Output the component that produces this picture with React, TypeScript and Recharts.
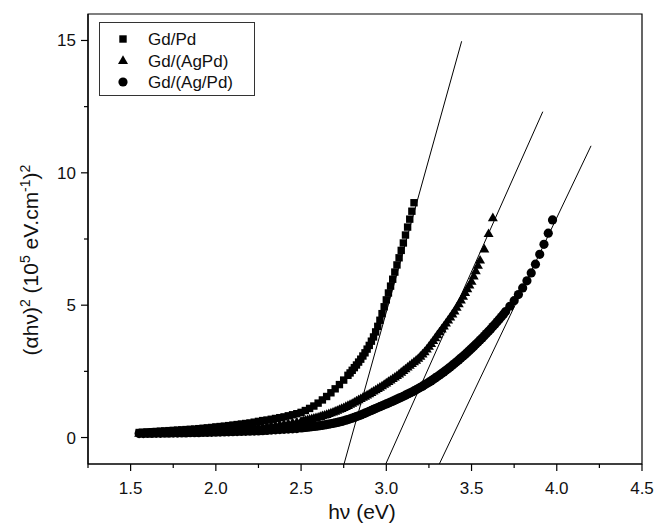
import React from 'react';
import { ScatterChart, Scatter, XAxis, YAxis, ReferenceLine, ReferenceArea, Legend } from 'recharts';

const FONT = '"Liberation Sans", Arial, sans-serif';

// photon energy (eV), flat part shared by all samples
const hvLow = [
  1.55, 1.575,
  1.6, 1.625, 1.65, 1.675, 1.7, 1.725, 1.75, 1.775, 1.8, 1.825, 1.85, 1.875, 1.9, 1.925, 1.95, 1.975,
  2.0, 2.025, 2.05, 2.075, 2.1, 2.125, 2.15, 2.175, 2.2, 2.225, 2.25, 2.275, 2.3, 2.325, 2.35, 2.375,
  2.4, 2.425, 2.45, 2.475,
];

// rising part, sampled finer where the curves climb
const hvPdHigh = [
  2.5, 2.525, 2.55, 2.575, 2.6, 2.625, 2.65, 2.675, 2.7, 2.725, 2.75, 2.775,
  2.7875, 2.8, 2.8125, 2.825, 2.8375, 2.85, 2.8625, 2.875, 2.8875, 2.9,
  2.9125, 2.925, 2.9375, 2.95, 2.9625, 2.975, 2.9875, 3.0, 3.0125, 3.025,
  3.0375, 3.05, 3.0625, 3.075, 3.0875, 3.1, 3.1125, 3.125, 3.1375, 3.15,
  3.1625,
];

const hvMixHigh = [
  2.5, 2.5125, 2.525, 2.5375, 2.55, 2.5625, 2.575, 2.5875,
  2.6, 2.6125, 2.625, 2.6375, 2.65, 2.6625, 2.675, 2.6875,
  2.7, 2.7125, 2.725, 2.7375, 2.75, 2.7625, 2.775, 2.7875,
  2.8, 2.8125, 2.825, 2.8375, 2.85, 2.8625, 2.875, 2.8875,
  2.9, 2.9125, 2.925, 2.9375, 2.95, 2.9625, 2.975, 2.9875,
  3.0, 3.0125, 3.025, 3.0375, 3.05, 3.0625, 3.075, 3.0875,
  3.1, 3.1125, 3.125, 3.1375, 3.15, 3.1625, 3.175, 3.1875,
  3.2, 3.2125, 3.225, 3.2375, 3.25, 3.2625, 3.275, 3.2875,
  3.3, 3.3125, 3.325, 3.3375, 3.35, 3.3625, 3.375, 3.3875,
  3.4, 3.4125, 3.425, 3.4375, 3.45, 3.4625, 3.475, 3.4875,
  3.5, 3.5125, 3.525, 3.5375, 3.55, 3.575, 3.6, 3.625,
];

const hvLayerHigh = [
  2.5, 2.5125, 2.525, 2.5375, 2.55, 2.5625, 2.575, 2.5875,
  2.6, 2.6125, 2.625, 2.6375, 2.65, 2.6625, 2.675, 2.6875,
  2.7, 2.7125, 2.725, 2.7375, 2.75, 2.7625, 2.775, 2.7875,
  2.8, 2.8125, 2.825, 2.8375, 2.85, 2.8625, 2.875, 2.8875,
  2.9, 2.9125, 2.925, 2.9375, 2.95, 2.9625, 2.975, 2.9875,
  3.0, 3.0125, 3.025, 3.0375, 3.05, 3.0625, 3.075, 3.0875,
  3.1, 3.1125, 3.125, 3.1375, 3.15, 3.1625, 3.175, 3.1875,
  3.2, 3.2125, 3.225, 3.2375, 3.25, 3.2625, 3.275, 3.2875,
  3.3, 3.3125, 3.325, 3.3375, 3.35, 3.3625, 3.375, 3.3875,
  3.4, 3.4125, 3.425, 3.4375, 3.45, 3.4625, 3.475, 3.4875,
  3.5, 3.5125, 3.525, 3.5375, 3.55, 3.5625, 3.575, 3.5875,
  3.6, 3.6125, 3.625, 3.6375, 3.65, 3.6625, 3.675, 3.6875,
  3.7, 3.725, 3.75, 3.775, 3.8, 3.825, 3.85, 3.875, 3.9, 3.925, 3.95, 3.975,
];

// (alpha h nu)^2 in 1e5 eV.cm^-1 squared
const gdPd = [
  0.19, 0.2, 0.21, 0.22, 0.23, 0.24, 0.25, 0.26, 0.27, 0.28, 0.29, 0.3, 0.31, 0.32, 0.335, 0.35, 0.365, 0.38,
  0.4, 0.415, 0.43, 0.45, 0.47, 0.49, 0.51, 0.53, 0.55, 0.58, 0.61, 0.64, 0.66, 0.69, 0.72, 0.75,
  0.78, 0.82, 0.86, 0.9,
  0.95, 1.02, 1.1, 1.19, 1.3, 1.42, 1.55, 1.69, 1.84, 2.0, 2.17, 2.35,
  2.44, 2.54, 2.64, 2.74, 2.85, 2.96, 3.08, 3.2, 3.34, 3.48,
  3.64, 3.8, 3.99, 4.2, 4.43, 4.68, 4.94, 5.2, 5.46, 5.72,
  5.98, 6.25, 6.52, 6.79, 7.07, 7.35, 7.65, 7.95, 8.25, 8.55,
  8.87,
];

const gdAgPdMix = [
  0.16, 0.16, 0.165, 0.17, 0.175, 0.18, 0.185, 0.19, 0.195, 0.2, 0.21, 0.215, 0.22, 0.23, 0.24, 0.245, 0.25, 0.26,
  0.27, 0.28, 0.29, 0.3, 0.31, 0.32, 0.335, 0.35, 0.365, 0.38, 0.395, 0.41, 0.43, 0.45, 0.47, 0.49,
  0.51, 0.535, 0.56, 0.59,
  0.62, 0.635, 0.65, 0.67, 0.69, 0.71, 0.73, 0.75,
  0.77, 0.795, 0.82, 0.845, 0.87, 0.9, 0.93, 0.96,
  0.99, 1.025, 1.06, 1.095, 1.13, 1.17, 1.21, 1.25,
  1.29, 1.335, 1.38, 1.425, 1.47, 1.515, 1.56, 1.605,
  1.65, 1.7, 1.75, 1.8, 1.85, 1.9, 1.95, 2.005,
  2.06, 2.115, 2.17, 2.225, 2.28, 2.34, 2.4, 2.465,
  2.53, 2.595, 2.66, 2.725, 2.79, 2.855, 2.92, 2.99,
  3.07, 3.155, 3.24, 3.34, 3.44, 3.55, 3.66, 3.77,
  3.88, 3.99, 4.1, 4.21, 4.32, 4.435, 4.55, 4.665,
  4.78, 4.915, 5.05, 5.19, 5.33, 5.475, 5.62, 5.76,
  5.9, 6.1, 6.3, 6.5, 6.7, 7.12, 7.7, 8.3,
];

const gdAgPdLayer = [
  0.15, 0.15, 0.155, 0.155, 0.16, 0.16, 0.165, 0.165, 0.17, 0.17, 0.175, 0.175, 0.18, 0.18, 0.185, 0.19, 0.19, 0.195,
  0.2, 0.205, 0.21, 0.215, 0.22, 0.225, 0.23, 0.235, 0.24, 0.245, 0.25, 0.26, 0.27, 0.28, 0.29, 0.3,
  0.31, 0.32, 0.33, 0.34,
  0.36, 0.37, 0.38, 0.39, 0.4, 0.41, 0.42, 0.43,
  0.44, 0.45, 0.46, 0.475, 0.49, 0.505, 0.52, 0.535,
  0.55, 0.57, 0.59, 0.61, 0.63, 0.655, 0.68, 0.705,
  0.73, 0.76, 0.79, 0.82, 0.85, 0.885, 0.92, 0.955,
  0.99, 1.025, 1.06, 1.095, 1.13, 1.165, 1.2, 1.235,
  1.27, 1.305, 1.34, 1.375, 1.41, 1.45, 1.485, 1.52,
  1.56, 1.6, 1.64, 1.68, 1.72, 1.76, 1.805, 1.85,
  1.895, 1.94, 1.99, 2.04, 2.09, 2.14, 2.195, 2.25,
  2.305, 2.36, 2.42, 2.48, 2.54, 2.6, 2.665, 2.73,
  2.795, 2.86, 2.93, 3.0, 3.07, 3.14, 3.215, 3.29,
  3.365, 3.44, 3.52, 3.6, 3.68, 3.76, 3.845, 3.93,
  4.015, 4.1, 4.19, 4.28, 4.37, 4.465, 4.56, 4.66,
  4.76, 4.96, 5.17, 5.4, 5.65, 5.92, 6.22, 6.55, 6.92, 7.3, 7.72, 8.22,
];

const seriesNames = ['Gd/Pd', 'Gd/(AgPd)', 'Gd/(Ag/Pd)'];

// linear fits used for the band gap, [hv, value] end points
const fitPd = [[2.752, -1], [3.442, 14.97]];
const fitAgPdMix = [[2.997, -1], [3.918, 12.31]];
const fitAgPdLayer = [[3.311, -1], [4.201, 11.02]];

const xTicks = [1.25, 1.5, 1.75, 2, 2.25, 2.5, 2.75, 3, 3.25, 3.5, 3.75, 4, 4.25, 4.5];
const xMajor = [1.5, 2, 2.5, 3, 3.5, 4, 4.5];
const yTicks = [0, 2.5, 5, 7.5, 10, 12.5, 15];
const yMajor = [0, 5, 10, 15];

const toPoints = (xs: number[], ys: number[]) => ys.map((y, i) => ({ x: xs[i], y }));

const drawMarker = (kind: number, cx: number, cy: number) => {
  if (kind === 0) return <rect x={cx - 3.7} y={cy - 3.7} width={7.4} height={7.4} fill="#000" />;
  if (kind === 1)
    return <polygon points={`${cx},${cy - 5.2} ${cx - 5},${cy + 3.4} ${cx + 5},${cy + 3.4}`} fill="#000" />;
  return <circle cx={cx} cy={cy} r={4.6} fill="#000" />;
};

const shapeFor = (kind: number) => (props: any) => drawMarker(kind, props.cx, props.cy);

const XTick = (props: any) => {
  const { x, y, payload } = props;
  const major = xMajor.includes(payload.value);
  return (
    <g>
      <line x1={x} x2={x} y1={y} y2={y + (major ? 7 : 4)} stroke="#000" strokeWidth={1.2} />
      {major && (
        <text x={x} y={y + 30} textAnchor="middle" fontSize={17} fontFamily={FONT} fill="#111">
          {payload.value.toFixed(1)}
        </text>
      )}
    </g>
  );
};

const YTick = (props: any) => {
  const { x, y, payload } = props;
  const major = yMajor.includes(payload.value);
  return (
    <g>
      <line x1={x - (major ? 7 : 4)} x2={x} y1={y} y2={y} stroke="#000" strokeWidth={1.2} />
      {major && (
        <text x={x - 12} y={y + 6} textAnchor="end" fontSize={17} fontFamily={FONT} fill="#111">
          {payload.value}
        </text>
      )}
    </g>
  );
};

const XTitle = () => (
  <text x={362} y={519} textAnchor="middle" fontSize={21} fontFamily={FONT} fill="#111">
    hν (eV)
  </text>
);

const YTitle = () => (
  <text transform="translate(38, 260) rotate(-90)" textAnchor="middle" fontSize={21} fontFamily={FONT} fill="#111">
    (αhν)<tspan dy={-8} fontSize={14}>2</tspan>
    <tspan dy={8}> (10</tspan>
    <tspan dy={-8} fontSize={14}>5</tspan>
    <tspan dy={8}> eV.cm</tspan>
    <tspan dy={-8} fontSize={14}>-1</tspan>
    <tspan dy={8}>)</tspan>
    <tspan dy={-8} fontSize={14}>2</tspan>
  </text>
);

const renderLegend = () => (
  <div style={{ width: 156, height: 74, boxSizing: 'border-box', border: '1px solid #333', background: '#fff' }}>
    <svg width={154} height={72}>
      {seriesNames.map((name, i) => (
        <g key={name}>
          {drawMarker(i, 23, 16 + i * 21.5)}
          <text x={48} y={16 + i * 21.5 + 6} fontSize={17} fontFamily={FONT} fill="#111">
            {name}
          </text>
        </g>
      ))}
    </svg>
  </div>
);

export default function App() {
  return (
    <div style={{ position: 'absolute', left: 0, top: 0, width: 657, height: 532, background: '#fff' }}>
      <ScatterChart width={657} height={532} margin={{ top: 14, right: 15, bottom: 28, left: 28 }}>
        <XAxis
          dataKey="x"
          type="number"
          domain={[1.25, 4.5]}
          ticks={xTicks}
          interval={0}
          allowDataOverflow
          tickSize={0}
          tickMargin={0}
          tickLine={false}
          axisLine={{ stroke: '#000', strokeWidth: 1.2 }}
          height={40}
          tick={<XTick />}
          label={XTitle}
        />
        <YAxis
          dataKey="y"
          type="number"
          domain={[-1, 16]}
          ticks={yTicks}
          interval={0}
          allowDataOverflow
          tickSize={0}
          tickMargin={0}
          tickLine={false}
          axisLine={{ stroke: '#000', strokeWidth: 1.2 }}
          width={60}
          tick={<YTick />}
          label={YTitle}
        />
        <ReferenceArea x1={1.25} x2={4.5} y1={-1} y2={16} stroke="#000" strokeWidth={1.2} fill="none" fillOpacity={0} ifOverflow="visible" />
        <Scatter name={seriesNames[2]} data={toPoints([...hvLow, ...hvLayerHigh], gdAgPdLayer)} fill="#000" shape={shapeFor(2)} isAnimationActive={false} />
        <Scatter name={seriesNames[1]} data={toPoints([...hvLow, ...hvMixHigh], gdAgPdMix)} fill="#000" shape={shapeFor(1)} isAnimationActive={false} />
        <Scatter name={seriesNames[0]} data={toPoints([...hvLow, ...hvPdHigh], gdPd)} fill="#000" shape={shapeFor(0)} isAnimationActive={false} />
        {[fitPd, fitAgPdMix, fitAgPdLayer].map((fit, i) => (
          <ReferenceLine
            key={i}
            segment={[{ x: fit[0][0], y: fit[0][1] }, { x: fit[1][0], y: fit[1][1] }]}
            stroke="#000"
            strokeWidth={1}
            ifOverflow="visible"
          />
        ))}
        <Legend
          layout="vertical"
          align="center"
          verticalAlign="middle"
          wrapperStyle={{ left: 99, top: 22, width: 156, height: 74 }}
          content={renderLegend}
        />
      </ScatterChart>
    </div>
  );
}
